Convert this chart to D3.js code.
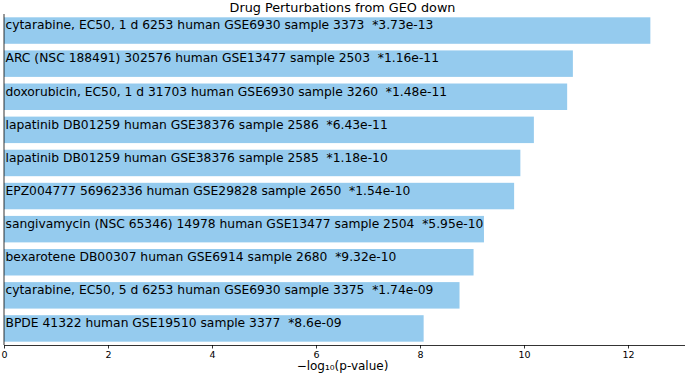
<!DOCTYPE html>
<html>
<head>
<meta charset="utf-8">
<script src="https://cdn.jsdelivr.net/npm/d3@7"></script>
<style>
  body { margin: 0; background: #fff; }
  text { font-family: "DejaVu Sans", sans-serif; fill: #000; }
</style>
</head>
<body>
<script>
const terms = [
  "cytarabine, EC50, 1 d 6253 human GSE6930 sample 3373",
  "ARC (NSC 188491) 302576 human GSE13477 sample 2503",
  "doxorubicin, EC50, 1 d 31703 human GSE6930 sample 3260",
  "lapatinib DB01259 human GSE38376 sample 2586",
  "lapatinib DB01259 human GSE38376 sample 2585",
  "EPZ004777 56962336 human GSE29828 sample 2650",
  "sangivamycin (NSC 65346) 14978 human GSE13477 sample 2504",
  "bexarotene DB00307 human GSE6914 sample 2680",
  "cytarabine, EC50, 5 d 6253 human GSE6930 sample 3375",
  "BPDE 41322 human GSE19510 sample 3377"
];
const pLabels = ["3.73e-13", "1.16e-11", "1.48e-11", "6.43e-11", "1.18e-10",
  "1.54e-10", "5.95e-10", "9.32e-10", "1.74e-09", "8.6e-09"];
// -log10(p-value)
const scores = [12.43, 10.94, 10.83, 10.19, 9.93, 9.81, 9.23, 9.03, 8.76, 8.07];
const xTicks = [0, 2, 4, 6, 8, 10, 12];

const W = 685, H = 373;
const margin = { top: 14, right: 0, bottom: 28, left: 4 };

const svg = d3.select("body").append("svg")
  .attr("width", W)
  .attr("height", H);

const x = d3.scaleLinear()
  .domain([0, (W - margin.left) / 52])
  .range([margin.left, W - margin.right]);

const y = d3.scaleBand()
  .domain(terms)
  .range([margin.top, H - margin.bottom])
  .paddingInner(0.2)
  .paddingOuter(0.1);

// bars
svg.selectAll(".bar")
  .data(terms)
  .enter()
  .append("rect")
  .attr("class", "bar")
  .attr("x", x(0))
  .attr("y", d => y(d))
  .attr("width", (d, i) => x(scores[i]) - x(0))
  .attr("height", y.bandwidth())
  .attr("fill", "#95cbee");

// bar labels
svg.selectAll(".lbl")
  .data(terms)
  .enter()
  .append("text")
  .attr("class", "lbl")
  .attr("x", x(0) + 1.5)
  .attr("y", d => y(d) + 12)
  .style("font-size", "12.3px")
  .style("white-space", "pre")
  .text((d, i) => d + "  *" + pLabels[i]);

// x axis
const xAxis = svg.append("g")
  .attr("transform", "translate(0," + (H - margin.bottom) + ")")
  .call(d3.axisBottom(x).tickValues(xTicks).tickFormat(d3.format("d")).tickSize(3.5).tickSizeOuter(0));
xAxis.select(".domain").attr("stroke", "#000").attr("stroke-width", 0.8);
xAxis.selectAll(".tick line").attr("stroke-width", 0.8);
xAxis.selectAll(".tick text")
  .attr("dy", "0.71em")
  .attr("y", 6)
  .style("font-family", "DejaVu Sans, sans-serif")
  .style("font-size", "9.5px");

// left spine
svg.append("line")
  .attr("x1", x(0)).attr("x2", x(0))
  .attr("y1", margin.top).attr("y2", H - margin.bottom)
  .attr("stroke", "#000")
  .attr("stroke-width", 0.8);

// title
svg.append("text")
  .attr("x", W / 2)
  .attr("y", 11.5)
  .attr("text-anchor", "middle")
  .style("font-size", "12.8px")
  .text("Drug Perturbations from GEO down");

// x label
svg.append("text")
  .attr("x", W / 2)
  .attr("y", 370)
  .attr("text-anchor", "middle")
  .style("font-size", "12px")
  .text("\u2212log\u2081\u2080(p-value)");
</script>
</body>
</html>
